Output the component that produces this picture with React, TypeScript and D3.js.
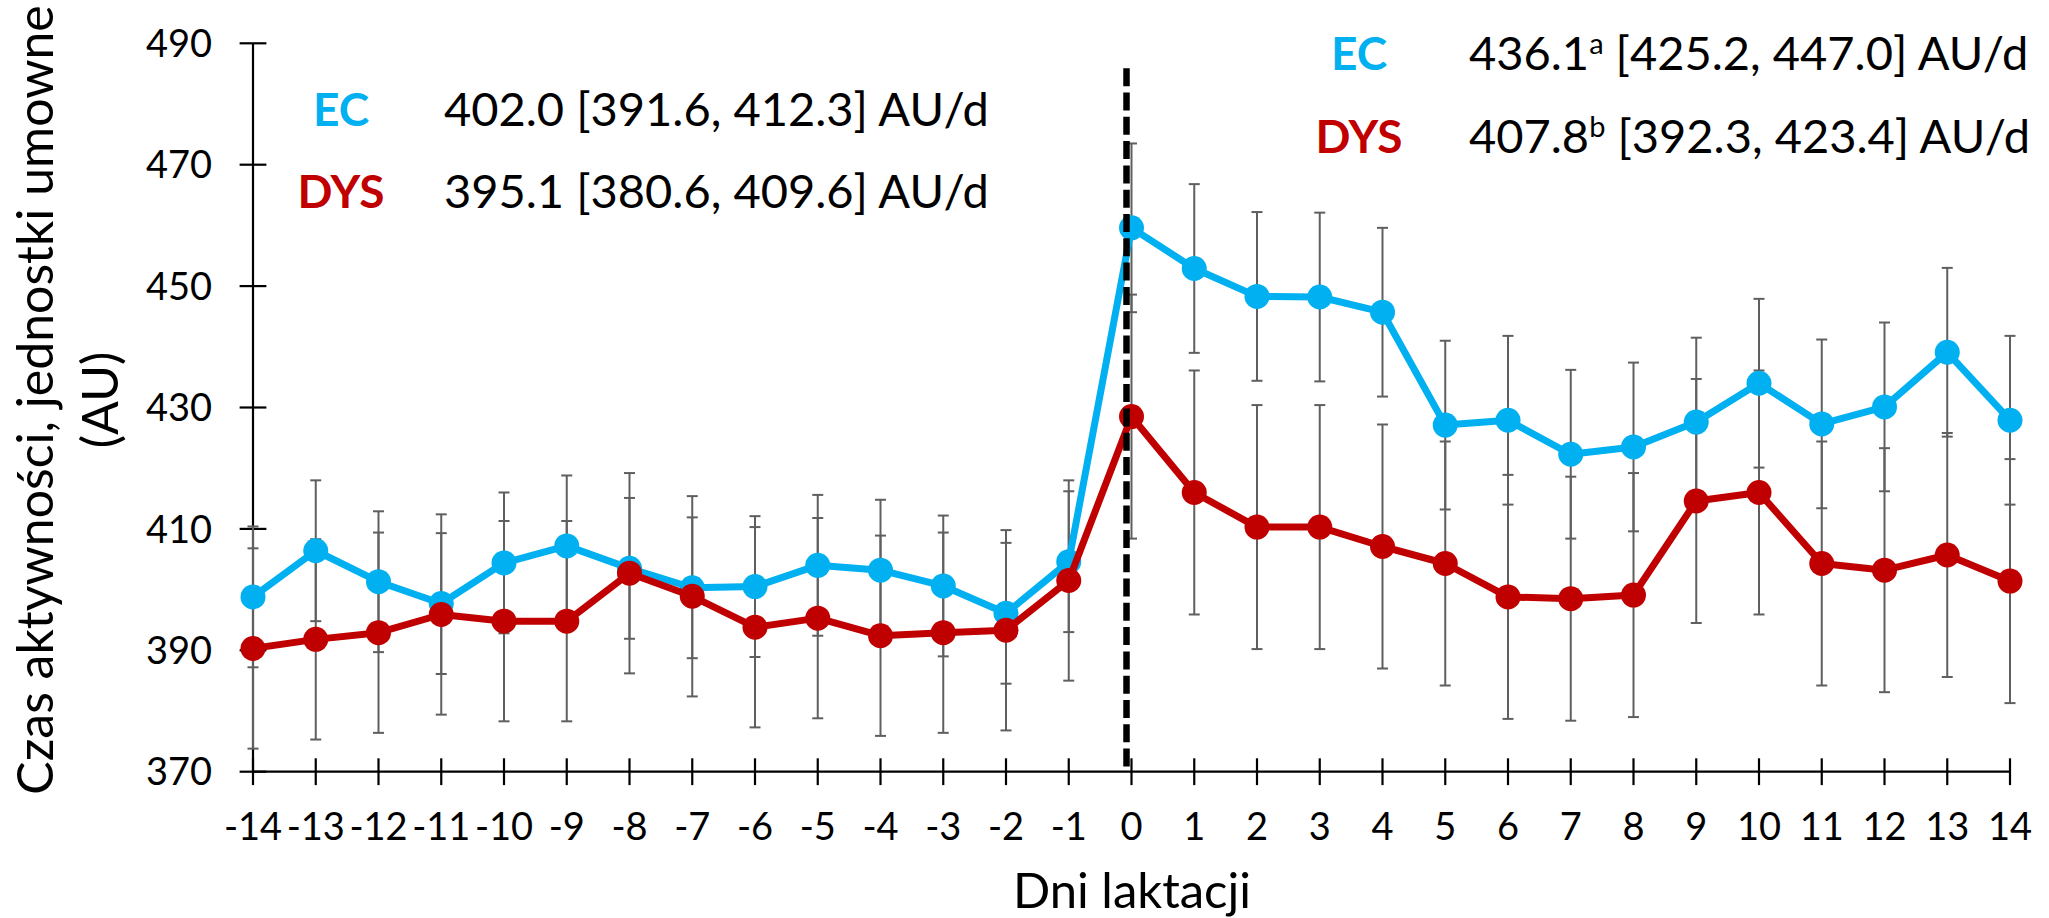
import React from 'react';
import * as d3 from 'd3';

// ---- data ----
const days = [-14, -13, -12, -11, -10, -9, -8, -7, -6, -5, -4, -3, -2, -1, 0, 1, 2, 3, 4, 5, 6, 7, 8, 9, 10, 11, 12, 13, 14];
const ecMean = [398.8, 406.4, 401.3, 397.7, 404.4, 407.2, 403.5, 400.3, 400.5, 404.0, 403.2, 400.6, 396.1, 404.6, 459.6, 452.9, 448.3, 448.2, 445.7, 427.1, 427.9, 422.3, 423.5, 427.6, 434.0, 427.3, 430.1, 439.1, 427.9];
const dysMean = [390.3, 391.8, 392.9, 395.9, 394.8, 394.8, 402.7, 398.9, 393.8, 395.3, 392.4, 392.9, 393.3, 401.5, 428.5, 416.0, 410.3, 410.3, 407.1, 404.3, 398.8, 398.5, 399.1, 414.6, 416.0, 404.3, 403.2, 405.7, 401.4];
const ecErr = [11.6, 11.6, 11.6, 11.6, 11.6, 11.6, 11.6, 11.6, 11.6, 11.6, 11.6, 11.6, 11.6, 11.6, 13.9, 13.9, 13.9, 13.9, 13.9, 13.9, 13.9, 13.9, 13.9, 13.9, 13.9, 13.9, 13.9, 13.9, 13.9];
const dysErr = [16.5, 16.5, 16.5, 16.5, 16.5, 16.5, 16.5, 16.5, 16.5, 16.5, 16.5, 16.5, 16.5, 16.5, 20.1, 20.1, 20.1, 20.1, 20.1, 20.1, 20.1, 20.1, 20.1, 20.1, 20.1, 20.1, 20.1, 20.1, 20.1];
const yTicks = [370, 390, 410, 430, 450, 470, 490];
const dashRange = [370.7, 485.9];

const groups = ['EC', 'DYS'];
const preMean = ['402.0', '395.1'];
const preCI = ['[391.6, 412.3] AU/d', '[380.6, 409.6] AU/d'];
const postMean = ['436.1', '407.8'];
const postSup = ['a', 'b'];
const postCI = ['[425.2, 447.0] AU/d', '[392.3, 423.4] AU/d'];

const yTitle = ['Czas aktywności, jednostki umowne', '(AU)'];
const xTitle = 'Dni laktacji';

const BLUE = '#00B0F0';
const RED = '#C00000';
const GREY = '#5f5f5f';
const FONT = "Lato, 'Open Sans', sans-serif";

export default function App() {
  const W = 2049, H = 918;
  const x = d3.scaleLinear().domain([-14, 14]).range([253, 2010]);
  const y = d3.scaleLinear().domain([370, 490]).range([771.7, 43.3]);
  const line = d3.line<number>().x((_, i) => x(days[i])).y((d) => y(d));

  const errBars = (mean: number[], err: number[], key: string) =>
    mean.map((m, i) => {
      const cx = x(days[i]);
      const y1 = y(m + err[i]);
      const y2 = y(m - err[i]);
      return (
        <g key={key + i} stroke={GREY} strokeWidth={2}>
          <line x1={cx} x2={cx} y1={y1} y2={y2} />
          <line x1={cx - 5.5} x2={cx + 5.5} y1={y1} y2={y1} />
          <line x1={cx - 5.5} x2={cx + 5.5} y1={y2} y2={y2} />
        </g>
      );
    });

  const markers = (mean: number[], color: string, key: string) =>
    mean.map((m, i) => <circle key={key + i} cx={x(days[i])} cy={y(m)} r={12.5} fill={color} />);

  const colors = [BLUE, RED];

  return (
    <svg width={W} height={H} style={{ position: 'absolute', left: 0, top: 0, background: '#fff' }} fontFamily={FONT}>
      <rect x={0} y={0} width={W} height={H} fill="#fff" />
      {/* axes */}
      <line x1={x(-14)} x2={x(-14)} y1={y(370)} y2={y(490)} stroke="#000" strokeWidth={2.2} />
      <line x1={x(-14)} x2={x(14)} y1={y(370)} y2={y(370)} stroke="#000" strokeWidth={2.2} />
      {yTicks.map((t) => (
        <g key={'yt' + t}>
          <line x1={x(-14) - 13.4} x2={x(-14) + 13.4} y1={y(t)} y2={y(t)} stroke="#000" strokeWidth={2.2} />
          <text x={212} y={y(t)} dy="0.36em" textAnchor="end" fontSize={38} fill="#000">{t}</text>
        </g>
      ))}
      {days.map((d) => (
        <g key={'xt' + d}>
          <line x1={x(d)} x2={x(d)} y1={y(370) - 13.4} y2={y(370) + 13.4} stroke="#000" strokeWidth={2.2} />
          <text x={x(d)} y={840} textAnchor="middle" fontSize={38} fill="#000">{d}</text>
        </g>
      ))}
      {/* error bars */}
      {errBars(ecMean, ecErr, 'ee')}
      {errBars(dysMean, dysErr, 'de')}
      {/* series */}
      <path d={line(ecMean) || ''} fill="none" stroke={BLUE} strokeWidth={7} strokeLinejoin="round" />
      {markers(ecMean, BLUE, 'em')}
      <path d={line(dysMean) || ''} fill="none" stroke={RED} strokeWidth={7} strokeLinejoin="round" />
      {markers(dysMean, RED, 'dm')}
      {/* calving line */}
      <line x1={x(0) - 5} x2={x(0) - 5} y1={y(dashRange[1])} y2={y(dashRange[0])} stroke="#000" strokeWidth={6.5} strokeDasharray="18 6.3" />
      {/* legends */}
      {groups.map((g, i) => (
        <g key={'pre' + g}>
          <text x={341} y={125.5 + i * 82.8} textAnchor="middle" fontSize={46} fontWeight="bold" fill={colors[i]}>{g}</text>
          <text x={444} y={125.5 + i * 82.8} fontSize={47} fill="#000">{preMean[i] + ' ' + preCI[i]}</text>
        </g>
      ))}
      {groups.map((g, i) => (
        <g key={'post' + g}>
          <text x={1359} y={70.3 + i * 83} textAnchor="middle" fontSize={46} fontWeight="bold" fill={colors[i]}>{g}</text>
          <text x={1469} y={70.3 + i * 83} fontSize={47} fill="#000">
            {postMean[i]}
            <tspan fontSize={29} dy={-16}>{postSup[i]}</tspan>
            <tspan dy={16}>{' ' + postCI[i]}</tspan>
          </text>
        </g>
      ))}
      {/* axis titles */}
      <g transform="translate(53,400) rotate(-90)">
        <text x={0} y={0} textAnchor="middle" fontSize={50} fill="#000">{yTitle[0]}</text>
        <text x={0} y={65} textAnchor="middle" fontSize={50} fill="#000">{yTitle[1]}</text>
      </g>
      <text x={1132} y={908} textAnchor="middle" fontSize={49} fill="#000">{xTitle}</text>
    </svg>
  );
}
